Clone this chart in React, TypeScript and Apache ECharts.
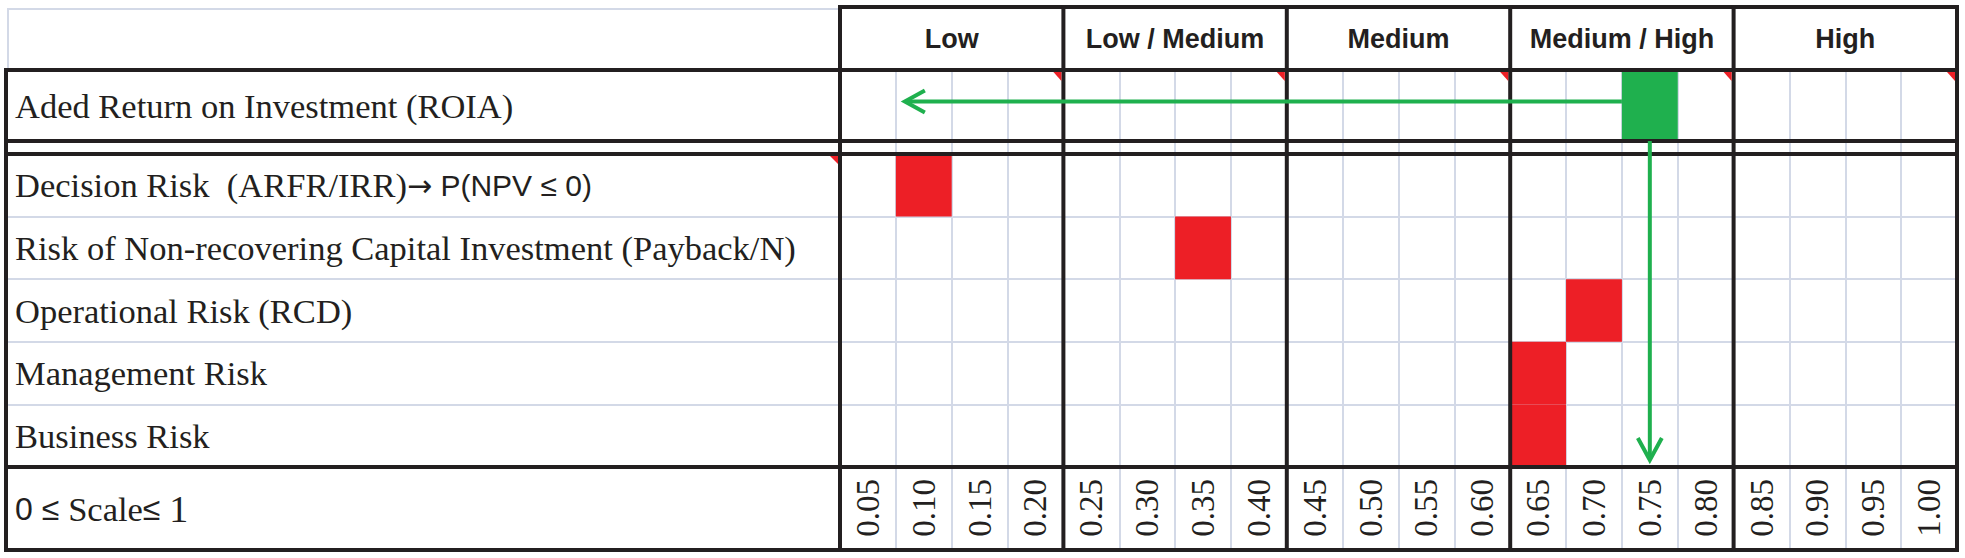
import React, { useEffect, useRef } from "react";
import * as echarts from "echarts";

// ---------- data ----------
const bandLabels = ["Low", "Low / Medium", "Medium", "Medium / High", "High"];
const scaleTicks = [
  "0.05", "0.10", "0.15", "0.20", "0.25", "0.30", "0.35", "0.40", "0.45", "0.50",
  "0.55", "0.60", "0.65", "0.70", "0.75", "0.80", "0.85", "0.90", "0.95", "1.00",
];
const roiaRows = ["Aded Return on Investment (ROIA)"];
const roiaLevels = ["0.75"];
const roiaArrowTarget = "0.10";
const riskRows = [
  "Decision Risk  (ARFR/IRR)→ P(NPV ≤ 0)",
  "Risk of Non-recovering Capital Investment (Payback/N)",
  "Operational Risk (RCD)",
  "Management Risk",
  "Business Risk",
];
const riskLevels = ["0.10", "0.35", "0.70", "0.65", "0.65"];
const scaleRows = ["0 ≤ Scale≤ 1"];

// ---------- layout / style ----------
const W = 1965;
const H = 558;
const GL = 840;
const GR = 1957;
const GW = GR - GL;
const LB = 6;
const Y_HEAD = 7;
const Y_ROIA = 70;
const Y_GAP = 141;
const Y_RISK = 154;
const Y_SCALE = 467;
const Y_END = 550;

const INK = "#231f20";
const LIGHT = "#d3d9e7";
const RED = "#ed1f26";
const GREEN = "#1fb04e";
const SERIF = "'Liberation Serif', 'Times New Roman', serif";
const SANS = "'Liberation Sans', Arial, sans-serif";

const colAxis = (gridIndex: number, labels: boolean) => ({
  type: "category",
  gridIndex,
  data: scaleTicks,
  boundaryGap: true,
  axisLine: { show: false },
  axisTick: { show: false },
  axisLabel: labels
    ? {
        show: true,
        interval: 0,
        rotate: 90,
        margin: 12,
        fontFamily: SERIF,
        fontSize: 33,
        color: INK,
      }
    : { show: false },
  splitLine: { show: true, interval: 0, lineStyle: { color: LIGHT, width: 2 } },
});

const rowLabel = {
  show: true,
  align: "left",
  margin: GL - 15,
  color: INK,
  fontFamily: SERIF,
  fontSize: 34.5,
};

const richStyles = {
  t: { fontFamily: SERIF, fontSize: 34.5, color: INK },
  s: { fontFamily: SANS, fontSize: 30, color: INK },
  z: { fontFamily: SANS, fontSize: 32, color: INK },
  a: { fontFamily: "'DejaVu Sans', sans-serif", fontSize: 30, color: INK },
  t1: { fontFamily: SERIF, fontSize: 38, color: INK },
};

function thickLines() {
  const els: any[] = [];
  const hl = (y: number, x1: number, x2: number) =>
    els.push({
      type: "line",
      z: 10,
      shape: { x1, y1: y, x2, y2: y },
      style: { stroke: INK, lineWidth: 4 },
    });
  const vl = (x: number, y1: number, y2: number) =>
    els.push({
      type: "line",
      z: 10,
      shape: { x1: x, y1, x2: x, y2 },
      style: { stroke: INK, lineWidth: 4 },
    });
  // light border of the top-left empty cell
  els.push({
    type: "polyline",
    z: 9,
    shape: { points: [[8, Y_ROIA], [8, 9], [GL, 9]] },
    style: { stroke: LIGHT, lineWidth: 2, fill: "none" },
  });
  hl(Y_HEAD, GL - 2, GR + 2);
  [Y_ROIA, Y_GAP, Y_RISK, Y_SCALE, Y_END].forEach((y) => hl(y, LB - 2, GR + 2));
  vl(LB, Y_ROIA - 2, Y_END + 2);
  for (let k = 0; k <= bandLabels.length; k++) {
    vl(GL + (k * GW) / bandLabels.length, Y_HEAD - 2, Y_END + 2);
  }
  // comment indicators
  for (let k = 1; k <= bandLabels.length; k++) {
    const x = GL + (k * GW) / bandLabels.length - 2;
    els.push({
      type: "polygon",
      z: 11,
      shape: { points: [[x - 8, Y_ROIA + 2], [x, Y_ROIA + 2], [x, Y_ROIA + 11]] },
      style: { fill: RED },
    });
  }
  els.push({
    type: "polygon",
    z: 11,
    shape: { points: [[GL - 10, Y_RISK + 2], [GL - 2, Y_RISK + 2], [GL - 2, Y_RISK + 10]] },
    style: { fill: RED },
  });
  return els;
}

const cellRender = (color: string) => (params: any, api: any) => {
  const c = api.coord([api.value(0), api.value(1)]);
  const s = api.size([1, 1]);
  return {
    type: "rect",
    shape: { x: c[0] - s[0] / 2, y: c[1] - s[1] / 2, width: s[0], height: s[1] },
    style: { fill: color },
  };
};

export default function App() {
  const ref = useRef<HTMLDivElement>(null);

  useEffect(() => {
    if (!ref.current) return;
    const chart = echarts.init(ref.current, null, { renderer: "svg", width: W, height: H });

    const option: any = {
      animation: false,
      backgroundColor: "#ffffff",
      grid: [
        { left: GL, width: GW, top: Y_HEAD, height: Y_ROIA - Y_HEAD },
        { left: GL, width: GW, top: Y_ROIA, height: Y_GAP - Y_ROIA },
        { left: GL, width: GW, top: Y_GAP, height: Y_RISK - Y_GAP },
        { left: GL, width: GW, top: Y_RISK, height: Y_SCALE - Y_RISK },
        { left: GL, width: GW, top: Y_SCALE, height: Y_END - Y_SCALE },
      ],
      xAxis: [
        {
          type: "category",
          gridIndex: 0,
          data: bandLabels,
          boundaryGap: true,
          axisLine: { show: false },
          axisTick: { show: false },
          splitLine: { show: false },
          axisLabel: {
            inside: true,
            interval: 0,
            margin: (Y_ROIA - Y_HEAD) / 2,
            verticalAlign: "middle",
            fontFamily: SANS,
            fontWeight: "bold",
            fontSize: 27,
            color: INK,
          },
        },
        colAxis(1, false),
        colAxis(2, false),
        colAxis(3, true),
        colAxis(4, false),
      ],
      yAxis: [
        { type: "category", gridIndex: 0, data: [""], show: false },
        {
          type: "category",
          gridIndex: 1,
          data: roiaRows,
          axisLine: { show: false },
          axisTick: { show: false },
          splitLine: { show: false },
          axisLabel: rowLabel,
        },
        { type: "category", gridIndex: 2, data: [""], show: false },
        {
          type: "category",
          gridIndex: 3,
          data: riskRows,
          inverse: true,
          axisLine: { show: false },
          axisTick: {
            show: true,
            interval: 0,
            length: GL - LB,
            lineStyle: { color: LIGHT, width: 2 },
          },
          splitLine: { show: true, interval: 0, lineStyle: { color: LIGHT, width: 2 } },
          axisLabel: {
            ...rowLabel,
            interval: 0,
            formatter: (v: string) => {
              const i = v.indexOf("→");
              if (i < 0) return `{t|${v}}`;
              return `{t|${v.slice(0, i)}}{a|→}{s|${v.slice(i + 1)}}`;
            },
            rich: richStyles,
          },
        },
        {
          type: "category",
          gridIndex: 4,
          data: scaleRows,
          axisLine: { show: false },
          axisTick: { show: false },
          splitLine: { show: false },
          axisLabel: {
            ...rowLabel,
            formatter: (v: string) =>
              v.replace(/^(\S+ ≤ )([A-Za-z]+)(≤ )(\S+)$/, "{z|$1}{t|$2}{z|$3}{t1|$4}"),
            rich: richStyles,
          },
        },
      ],
      graphic: thickLines(),
      series: [
        {
          type: "custom",
          name: "ROIA",
          xAxisIndex: 1,
          yAxisIndex: 1,
          z: 3,
          data: roiaLevels.map((v, i) => [scaleTicks.indexOf(v), i]),
          renderItem: cellRender(GREEN),
        },
        {
          type: "custom",
          name: "Risks",
          xAxisIndex: 3,
          yAxisIndex: 3,
          z: 3,
          data: riskLevels.map((v, i) => [scaleTicks.indexOf(v), i]),
          renderItem: cellRender(RED),
        },
        {
          type: "custom",
          name: "ROIA arrow",
          xAxisIndex: 1,
          yAxisIndex: 1,
          z: 20,
          data: roiaLevels.map((v, i) => [scaleTicks.indexOf(v), i, scaleTicks.indexOf(roiaArrowTarget)]),
          renderItem: (params: any, api: any) => {
            const from = api.coord([api.value(0), api.value(1)]);
            const to = api.coord([api.value(2), api.value(1)]);
            const s = api.size([1, 1]);
            const y = from[1] - 4;
            const x0 = from[0] - s[0] / 2;
            const x1 = to[0] - s[0] / 2 + 9;
            return {
              type: "group",
              children: [
                {
                  type: "line",
                  shape: { x1: x0, y1: y, x2: x1 + 2, y2: y },
                  style: { stroke: GREEN, lineWidth: 4 },
                },
                {
                  type: "polyline",
                  shape: { points: [[x1 + 20, y - 11], [x1, y], [x1 + 20, y + 11]] },
                  style: { stroke: GREEN, lineWidth: 4, fill: "none", lineJoin: "miter" },
                },
              ],
            };
          },
        },
        {
          type: "custom",
          name: "Risk arrow",
          xAxisIndex: 3,
          yAxisIndex: 3,
          z: 20,
          data: roiaLevels.map((v) => [scaleTicks.indexOf(v), riskRows.length - 1]),
          renderItem: (params: any, api: any) => {
            const top = api.coord([api.value(0), 0]);
            const bottom = api.coord([api.value(0), api.value(1)]);
            const s = api.size([1, 1]);
            const x = top[0];
            const y0 = top[1] - s[1] / 2 - (Y_RISK - Y_GAP);
            const y1 = bottom[1] + s[1] / 2 - 7;
            return {
              type: "group",
              children: [
                {
                  type: "line",
                  shape: { x1: x, y1: y0, x2: x, y2: y1 - 2 },
                  style: { stroke: GREEN, lineWidth: 4 },
                },
                {
                  type: "polyline",
                  shape: { points: [[x - 12, y1 - 22], [x, y1], [x + 12, y1 - 22]] },
                  style: { stroke: GREEN, lineWidth: 4, fill: "none", lineJoin: "miter" },
                },
              ],
            };
          },
        },
      ],
    };

    chart.setOption(option);
    return () => chart.dispose();
  }, []);

  return (
    <div
      ref={ref}
      style={{ position: "fixed", left: 0, top: 0, width: W, height: H, background: "#fff" }}
    />
  );
}
